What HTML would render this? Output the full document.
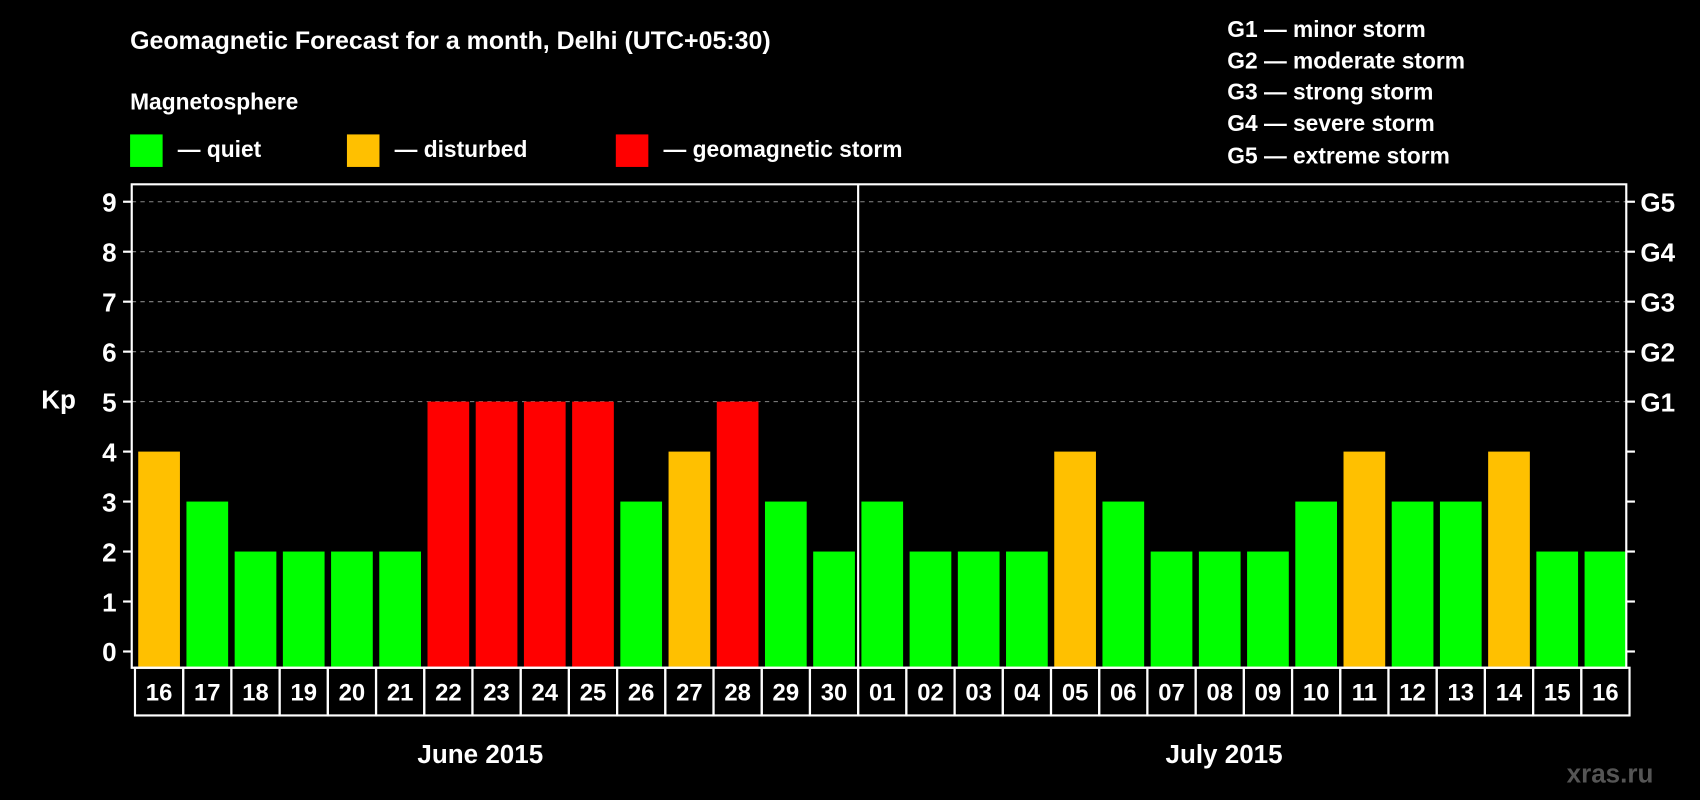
<!DOCTYPE html>
<html><head><meta charset="utf-8"><style>
html,body{margin:0;padding:0;background:#000;}
svg{display:block;font-family:"Liberation Sans",Arial,sans-serif;font-weight:bold;}
</style></head><body>
<svg id="chart" width="1700" height="800" viewBox="0 0 1568 738" preserveAspectRatio="none">
<rect x="0" y="0" width="1568" height="738" fill="#000"/>
<text x="120" y="45" fill="#fff" font-size="23">Geomagnetic Forecast for a month, Delhi (UTC+05:30)</text>
<text x="120" y="101" fill="#fff" font-size="21">Magnetosphere</text>
<g>
<rect x="120" y="124" width="30" height="30" fill="#00ff00"/>
<text x="164" y="145" fill="#fff" font-size="21">— quiet</text>
<rect x="320" y="124" width="30" height="30" fill="#ffc000"/>
<text x="364" y="145" fill="#fff" font-size="21">— disturbed</text>
<rect x="568" y="124" width="30" height="30" fill="#ff0000"/>
<text x="612" y="145" fill="#fff" font-size="21">— geomagnetic storm</text>
</g>
<g fill="#fff" font-size="21">
<text x="1132" y="34">G1 — minor storm</text>
<text x="1132" y="63">G2 — moderate storm</text>
<text x="1132" y="92">G3 — strong storm</text>
<text x="1132" y="121">G4 — severe storm</text>
<text x="1132" y="151">G5 — extreme storm</text>
</g>
<text x="38" y="377" fill="#fff" font-size="24">Kp</text>
<text x="385" y="704" fill="#fff" font-size="24">June 2015</text>
<text x="1075" y="704" fill="#fff" font-size="24">July 2015</text>
<text x="1445" y="722" fill="#555" font-size="24">xras.ru</text>
<g id="plot"></g>
</svg>
<script>
const days = ["16","17","18","19","20","21","22","23","24","25","26","27","28","29","30","01","02","03","04","05","06","07","08","09","10","11","12","13","14","15","16"];
const kpValues = [4,3,2,2,2,2,5,5,5,5,3,4,5,3,2,3,2,2,2,4,3,2,2,2,3,4,3,3,4,2,2];
const yTicks = [0,1,2,3,4,5,6,7,8,9];
const gLabels = ["G1","G2","G3","G4","G5"];
const gLevels = [5,6,7,8,9];

const NS = "http://www.w3.org/2000/svg";
const plot = document.getElementById("plot");
const L = 121.5, R = 1500, T = 170, B = 616;
const slot = (R - L) / days.length;
function y(v){ return 601 - v * 46.1; }
function x(i){ return L + i * slot; }
function colorFor(v){ return v >= 5 ? "#ff0000" : (v >= 4 ? "#ffc000" : "#00ff00"); }
function mk(tag, attrs){ const e = document.createElementNS(NS, tag); for (const k in attrs) e.setAttribute(k, attrs[k]); plot.appendChild(e); return e; }

// gridlines
yTicks.forEach(t => {
  if (t >= 5) {
    const g = mk("line", {x1:L, x2:R, y1:y(t), y2:y(t), stroke:"#888", "stroke-width":1, "stroke-dasharray":"4,4"});
    
    
  }
  const tk = mk("line", {x1:L-8, x2:L, y1:y(t), y2:y(t), stroke:"#fff", "stroke-width":2});
  
  
  const tr = mk("line", {x1:R, x2:R+8, y1:y(t), y2:y(t), stroke:"#fff", "stroke-width":2});
  
  
  const lb = mk("text", {x:L-14, y:y(t)+9, fill:"#fff", "font-size":24, "text-anchor":"end"});
  lb.textContent = t;
  
  
});
gLabels.forEach((g, i) => {
  const lb = mk("text", {x:R+13, y:y(gLevels[i])+9, fill:"#fff", "font-size":24});
  lb.textContent = g;
  
  
});

// bars & date boxes
kpValues.forEach((v, i) => {
  const b = mk("rect", {x:x(i)+6, y:y(v), width:slot-6, height:B-1-y(v), fill:colorFor(v)});
  
  
  const bx = mk("rect", {x:x(i)+3, y:B, width:slot, height:44, fill:"none", stroke:"#fff", "stroke-width":2});
  
  
  const dt = mk("text", {x:x(i)+3+slot/2, y:B+30, fill:"#fff", "font-size":22, "text-anchor":"middle"});
  dt.textContent = days[i];
  
  
});

// frame
const fr = mk("path", {d:`M${L},${B} L${L},${T} L${R},${T} L${R},${B} Z`, fill:"none", stroke:"#fff", "stroke-width":2});


const sepIdx = days.indexOf("01");
const sp = mk("line", {x1:x(sepIdx)+3, x2:x(sepIdx)+3, y1:T, y2:B, stroke:"#fff", "stroke-width":2});


</script>
</body></html>
